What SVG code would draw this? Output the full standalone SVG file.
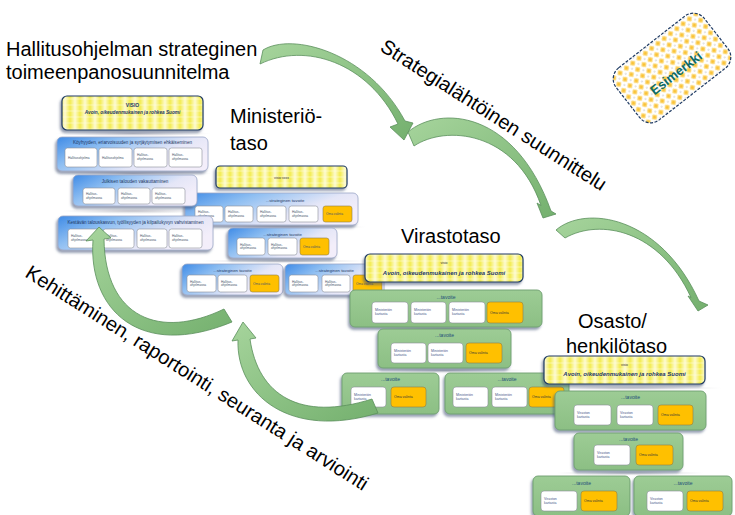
<svg xmlns="http://www.w3.org/2000/svg" width="735" height="515" viewBox="0 0 735 515">
<defs>
<style>
text{font-family:"Liberation Sans",Arial,sans-serif}
.big{font-size:20px;fill:#000}
.blue{fill:url(#bg);stroke:#9aa6c6;stroke-width:.8}
.green{fill:url(#gg);stroke:#6e9e70;stroke-width:.9}
.vis{fill:url(#vis);stroke:#1f3b64;stroke-width:1.2}
.wb{fill:#fff;stroke:#8a8f99;stroke-width:.6}
.ob{fill:#ffc000;stroke:#8f7d4a;stroke-width:.6}
.ht{font-size:4.6px;fill:#1f3864;text-anchor:middle}
.mt{font-size:4.3px;fill:#1f3864;text-anchor:middle}
.gt{font-size:5px;fill:#1f4e79;text-anchor:middle}
.lb{font-size:3.2px;fill:#44546a}
.gl{font-size:3.5px;fill:#4a5a8a}
.ol{font-size:3.5px;fill:#3a3a3a}
.arr{fill:url(#ag);stroke:#5a8f5c;stroke-width:.8}
.rf{fill:url(#rg)}
</style>
<filter id="sh" x="-10%" y="-20%" width="120%" height="150%"><feDropShadow dx="-1.5" dy="2.5" stdDeviation="1" flood-color="#3e4f72" flood-opacity="0.55"/></filter>
<linearGradient id="bg" x1="0" y1="0" x2="1" y2="0.5"><stop offset="0" stop-color="#3f8be6"/><stop offset=".35" stop-color="#8fbff2"/><stop offset=".75" stop-color="#e4e6f7"/><stop offset="1" stop-color="#f3eefa"/></linearGradient>
<linearGradient id="gg" x1="0" y1="0" x2="0" y2="1"><stop offset="0" stop-color="#9dcc95"/><stop offset="1" stop-color="#8cbf84"/></linearGradient>
<linearGradient id="ag" x1="0" y1="0" x2="1" y2="1"><stop offset="0" stop-color="#a6d49c"/><stop offset="1" stop-color="#74b06e"/></linearGradient>
<linearGradient id="vg" x1="0" y1="0" x2="1" y2="0"><stop offset="0" stop-color="#f3ec4e"/><stop offset=".5" stop-color="#fdfad0"/><stop offset="1" stop-color="#f3ec4e"/></linearGradient>
<pattern id="vis" width="10" height="6" patternUnits="userSpaceOnUse"><rect width="10" height="6" fill="url(#vg)"/><rect y="2.6" width="10" height="0.8" fill="#fffbe0" opacity=".7"/></pattern>
<radialGradient id="dg"><stop offset="0" stop-color="#f9b818"/><stop offset="1" stop-color="#fdebb0"/></radialGradient>
<pattern id="esp" width="8" height="8" patternUnits="userSpaceOnUse"><rect width="8" height="8" fill="#fff"/><polygon points="4,0.6 7.4,4 4,7.4 0.6,4" fill="url(#dg)"/><circle cx="0" cy="0" r=".5" fill="#777"/><circle cx="8" cy="8" r=".5" fill="#777"/><circle cx="8" cy="0" r=".5" fill="#777"/><circle cx="0" cy="8" r=".5" fill="#777"/></pattern>
<radialGradient id="rg"><stop offset="0" stop-color="#9a9aa6" stop-opacity=".6"/><stop offset="1" stop-color="#c0c0c8" stop-opacity="0"/></radialGradient>
</defs>
<rect width="735" height="515" fill="#fff"/>

<g id="labels">
<text class="big" x="6" y="56">Hallitusohjelman strateginen</text>
<text class="big" x="6" y="79">toimeenpanosuunnitelma</text>
<text class="big" x="230" y="123">Ministeriö-</text>
<text class="big" x="230" y="150">taso</text>
<text class="big" x="401" y="243">Virastotaso</text>
<text class="big" x="578" y="328">Osasto/</text>
<text class="big" x="566" y="353">henkilötaso</text>
<text class="big" transform="translate(379,50) rotate(32.5)">Strategialähtöinen suunnittelu</text>
<text class="big" transform="translate(24,276) rotate(32.4)">Kehittäminen, raportointi, seuranta ja arviointi</text>
</g>

<g id="esimerkki" transform="translate(672,68) rotate(-38)">
<rect x="-56" y="-33" width="112" height="66" rx="14" fill="url(#esp)" stroke="#1f3b64" stroke-width="1.2" stroke-dasharray="3 1.5"/>
<text x="0" y="11" text-anchor="middle" font-size="13" font-weight="bold" fill="#0e6b68">Esimerkki</text>
</g>

<g id="reflections">
<ellipse class="rf" cx="133" cy="133.5" rx="78" ry="3"/>
<ellipse class="rf" cx="133" cy="173.5" rx="80" ry="3"/>
<ellipse class="rf" cx="133" cy="211" rx="72" ry="3"/>
<ellipse class="rf" cx="284" cy="227" rx="85" ry="2"/>
<ellipse class="rf" cx="283" cy="261" rx="85" ry="2"/>
<ellipse class="rf" cx="446" cy="328.5" rx="95" ry="2"/>
<ellipse class="rf" cx="445" cy="370.5" rx="85" ry="2.5"/>
<ellipse class="rf" cx="630" cy="388" rx="95" ry="2"/>
<ellipse class="rf" cx="630" cy="473" rx="75" ry="2.5"/>
</g>

<g id="ministerio">
<g id="m-visio"><rect class="vis" x="216" y="166" width="131" height="22" rx="4" filter="url(#sh)"/><text x="281.5" y="178.5" font-size="3.5" fill="#333" text-anchor="middle">visio:xxxx</text></g>
<g id="m1">
<rect class="blue" x="185" y="193" width="173" height="32" rx="5" filter="url(#sh)"/>
<text class="mt" x="285" y="201.5">...strateginen tavoite</text>
<rect class="wb" x="195" y="206" width="28" height="16" rx="2.5"/><text class="lb" x="198" y="213"><tspan>Hallitus-</tspan><tspan x="198" dy="3.8">ohjelmassa</tspan></text>
<rect class="wb" x="225" y="206" width="28" height="16" rx="2.5"/><text class="lb" x="228" y="213"><tspan>Hallitus-</tspan><tspan x="228" dy="3.8">ohjelmassa</tspan></text>
<rect class="wb" x="257" y="206" width="29" height="16" rx="2.5"/><text class="lb" x="260" y="213"><tspan>Hallitus-</tspan><tspan x="260" dy="3.8">ohjelmassa</tspan></text>
<rect class="wb" x="289" y="206" width="29" height="16" rx="2.5"/><text class="lb" x="292" y="213"><tspan>Hallitus-</tspan><tspan x="292" dy="3.8">ohjelmassa</tspan></text>
<rect class="ob" x="323" y="206" width="29" height="16" rx="2.5"/><text class="lb" x="326" y="215">Oma valinta</text>
</g>
<g id="m2">
<rect class="blue" x="228" y="228" width="109" height="30" rx="5" filter="url(#sh)"/>
<text class="mt" x="282.5" y="235.5">...strateginen tavoite</text>
<rect class="wb" x="237" y="238" width="28" height="17" rx="2.5"/><text class="lb" x="240" y="245.5"><tspan>Hallitus-</tspan><tspan x="240" dy="3.8">ohjelmassa</tspan></text>
<rect class="wb" x="268" y="238" width="29" height="17" rx="2.5"/><text class="lb" x="271" y="245.5"><tspan>Hallitus-</tspan><tspan x="271" dy="3.8">ohjelmassa</tspan></text>
<rect class="ob" x="300" y="238" width="29" height="17" rx="2.5"/><text class="lb" x="303" y="247.5">Oma valinta</text>
</g>
<g id="m3">
<rect class="blue" x="182" y="264" width="101" height="31" rx="5" filter="url(#sh)"/>
<text class="mt" x="232.5" y="271.5">...strateginen tavoite</text>
<rect class="wb" x="187" y="275" width="29" height="17" rx="2.5"/><text class="lb" x="190" y="282.5"><tspan>Hallitus-</tspan><tspan x="190" dy="3.8">ohjelmassa</tspan></text>
<rect class="wb" x="218" y="275" width="29" height="17" rx="2.5"/><text class="lb" x="221" y="282.5"><tspan>Hallitus-</tspan><tspan x="221" dy="3.8">ohjelmassa</tspan></text>
<rect class="ob" x="250" y="275" width="29" height="17" rx="2.5"/><text class="lb" x="253" y="284.5">Oma valinta</text>
</g>
<g id="m4">
<rect class="blue" x="285" y="264" width="99" height="31" rx="5" filter="url(#sh)"/>
<text class="mt" x="334.5" y="271.5">...strateginen tavoite</text>
<rect class="wb" x="289" y="275" width="29" height="17" rx="2.5"/><text class="lb" x="292" y="282.5"><tspan>Hallitus-</tspan><tspan x="292" dy="3.8">ohjelmassa</tspan></text>
<rect class="wb" x="322" y="275" width="28" height="17" rx="2.5"/><text class="lb" x="325" y="282.5"><tspan>Hallitus-</tspan><tspan x="325" dy="3.8">ohjelmassa</tspan></text>
<rect class="ob" x="353" y="275" width="29" height="17" rx="2.5"/><text class="lb" x="356" y="284.5">Oma valinta</text>
</g>
</g>

<g id="hallitus">
<g id="h-visio"><rect class="vis" x="62" y="96" width="141" height="34" rx="5" filter="url(#sh)"/>
<text x="132.5" y="106.5" font-size="5" font-weight="bold" fill="#1f3864" text-anchor="middle">VISIO</text>
<text x="132.5" y="114" font-size="4.7" font-weight="bold" font-style="italic" fill="#1f3864" text-anchor="middle">Avoin, oikeudenmukainen ja rohkea Suomi</text></g>
<g id="h1">
<rect class="blue" x="57" y="137" width="151" height="34" rx="5" filter="url(#sh)"/>
<text class="ht" x="132.5" y="144">Köyhyyden, eriarvoisuuden ja syrjäytymisen ehkäiseminen</text>
<rect class="wb" x="65" y="148" width="32" height="19" rx="2.5"/><text class="lb" x="68" y="158.5">Hallitusohjelma</text>
<rect class="wb" x="99" y="148" width="33" height="19" rx="2.5"/><text class="lb" x="102" y="158.5">Hallitusohjelma</text>
<rect class="wb" x="134" y="148" width="33" height="19" rx="2.5"/><text class="lb" x="137" y="156"><tspan>Hallitus-</tspan><tspan x="137" dy="3.8">ohjelmassa</tspan></text>
<rect class="wb" x="169" y="148" width="33" height="19" rx="2.5"/><text class="lb" x="172" y="156"><tspan>Hallitus-</tspan><tspan x="172" dy="3.8">ohjelmassa</tspan></text>
</g>
<g id="h2">
<rect class="blue" x="73" y="175" width="124" height="31" rx="5" filter="url(#sh)"/>
<text class="ht" x="135" y="183">Julkisen talouden vakauttaminen</text>
<rect class="wb" x="83" y="188" width="32" height="16" rx="2.5"/><text class="lb" x="86" y="195"><tspan>Hallitus-</tspan><tspan x="86" dy="3.8">ohjelmassa</tspan></text>
<rect class="wb" x="118" y="188" width="32" height="16" rx="2.5"/><text class="lb" x="121" y="195"><tspan>Hallitus-</tspan><tspan x="121" dy="3.8">ohjelmassa</tspan></text>
<rect class="wb" x="152" y="188" width="33" height="16" rx="2.5"/><text class="lb" x="155" y="195"><tspan>Hallitus-</tspan><tspan x="155" dy="3.8">ohjelmassa</tspan></text>
</g>
<g id="h3">
<rect class="blue" x="58" y="216" width="155" height="34" rx="5" filter="url(#sh)"/>
<text class="ht" x="135.5" y="223.5">Kestävän talouskasvun, työllisyyden ja kilpailukyvyn vahvistaminen</text>
<rect class="wb" x="68" y="229" width="33" height="19" rx="2.5"/><text class="lb" x="71" y="237"><tspan>Hallitus-</tspan><tspan x="71" dy="3.8">ohjelmassa</tspan></text>
<rect class="wb" x="103" y="229" width="31" height="19" rx="2.5"/><text class="lb" x="106" y="237"><tspan>Hallitus-</tspan><tspan x="106" dy="3.8">ohjelmassa</tspan></text>
<rect class="wb" x="137" y="229" width="30" height="19" rx="2.5"/><text class="lb" x="140" y="237"><tspan>Hallitus-</tspan><tspan x="140" dy="3.8">ohjelmassa</tspan></text>
<rect class="wb" x="169" y="229" width="33" height="19" rx="2.5"/><text class="lb" x="172" y="237"><tspan>Hallitus-</tspan><tspan x="172" dy="3.8">ohjelmassa</tspan></text>
</g>
</g>

<g id="virasto">
<g id="v-visio"><rect class="vis" x="365" y="254" width="158" height="28" rx="5" filter="url(#sh)"/>
<text x="444" y="264" font-size="3.5" fill="#333" text-anchor="middle">visio</text>
<text x="444" y="274.5" font-size="6" font-weight="bold" font-style="italic" fill="#1f3864" text-anchor="middle">Avoin, oikeudenmukainen ja rohkea Suomi</text></g>
<g id="v1">
<rect class="green" x="350" y="290" width="192" height="37" rx="5" filter="url(#sh)"/>
<text class="gt" x="446" y="298.5">...tavoite</text>
<rect class="wb" x="372" y="302" width="36" height="21" rx="3"/><text class="gl" x="375" y="311"><tspan>Ministeriön</tspan><tspan x="375" dy="4">kartasta</tspan></text>
<rect class="wb" x="411" y="302" width="35" height="21" rx="3"/><text class="gl" x="414" y="311"><tspan>Ministeriön</tspan><tspan x="414" dy="4">kartasta</tspan></text>
<rect class="wb" x="449" y="302" width="36" height="21" rx="3"/><text class="gl" x="452" y="311"><tspan>Ministeriön</tspan><tspan x="452" dy="4">kartasta</tspan></text>
<rect class="ob" x="487" y="302" width="36" height="21" rx="3"/><text class="ol" x="490" y="313.5">Oma valinta</text>
</g>
<g id="v2">
<rect class="green" x="378" y="329" width="133" height="39" rx="5" filter="url(#sh)"/>
<text class="gt" x="444.5" y="337">...tavoite</text>
<rect class="wb" x="391" y="343" width="35" height="20" rx="3"/><text class="gl" x="394" y="351.5"><tspan>Ministeriön</tspan><tspan x="394" dy="4">kartasta</tspan></text>
<rect class="wb" x="428" y="343" width="35" height="20" rx="3"/><text class="gl" x="431" y="351.5"><tspan>Ministeriön</tspan><tspan x="431" dy="4">kartasta</tspan></text>
<rect class="ob" x="466" y="343" width="36" height="20" rx="3"/><text class="ol" x="469" y="354">Oma valinta</text>
</g>
<g id="v3">
<rect class="green" x="342" y="373" width="97" height="41" rx="5" filter="url(#sh)"/>
<text class="gt" x="390.5" y="381">...tavoite</text>
<rect class="wb" x="351" y="387" width="35" height="20" rx="3"/><text class="gl" x="354" y="395.5"><tspan>Ministeriön</tspan><tspan x="354" dy="4">kartasta</tspan></text>
<rect class="ob" x="391" y="387" width="35" height="20" rx="3"/><text class="ol" x="394" y="398">Oma valinta</text>
</g>
<g id="v4">
<rect class="green" x="445" y="373" width="124" height="41" rx="5" filter="url(#sh)"/>
<text class="gt" x="507" y="381">...tavoite</text>
<rect class="wb" x="453" y="387" width="35" height="20" rx="3"/><text class="gl" x="456" y="395.5"><tspan>Ministeriön</tspan><tspan x="456" dy="4">kartasta</tspan></text>
<rect class="wb" x="492" y="387" width="35" height="20" rx="3"/><text class="gl" x="495" y="395.5"><tspan>Ministeriön</tspan><tspan x="495" dy="4">kartasta</tspan></text>
<rect class="ob" x="529" y="387" width="35" height="20" rx="3"/><text class="ol" x="532" y="398">Oma valinta</text>
</g>
</g>

<g id="osasto">
<g id="o-visio"><rect class="vis" x="544" y="356" width="161" height="28" rx="5" filter="url(#sh)"/>
<text x="624.5" y="366" font-size="3.5" fill="#333" text-anchor="middle">visio</text>
<text x="624.5" y="376" font-size="6" font-weight="bold" font-style="italic" fill="#1f3864" text-anchor="middle">Avoin, oikeudenmukainen ja rohkea Suomi</text></g>
<g id="o1">
<rect class="green" x="555" y="391" width="151" height="39" rx="5" filter="url(#sh)"/>
<text class="gt" x="630.5" y="399">...tavoite</text>
<rect class="wb" x="574" y="405" width="37" height="20" rx="3"/><text class="gl" x="577" y="413.5"><tspan>Viraston</tspan><tspan x="577" dy="4">kartasta</tspan></text>
<rect class="wb" x="617" y="405" width="36" height="20" rx="3"/><text class="gl" x="620" y="413.5"><tspan>Viraston</tspan><tspan x="620" dy="4">kartasta</tspan></text>
<rect class="ob" x="658" y="405" width="35" height="20" rx="3"/><text class="ol" x="661" y="416">Oma valinta</text>
</g>
<g id="o2">
<rect class="green" x="574" y="433" width="109" height="37" rx="5" filter="url(#sh)"/>
<text class="gt" x="628.5" y="440.5">...tavoite</text>
<rect class="wb" x="594" y="445" width="36" height="20" rx="3"/><text class="gl" x="597" y="453.5"><tspan>Viraston</tspan><tspan x="597" dy="4">kartasta</tspan></text>
<rect class="ob" x="636" y="445" width="37" height="20" rx="3"/><text class="ol" x="639" y="456">Oma valinta</text>
</g>
<g id="o3">
<rect class="green" x="533" y="476" width="97" height="40" rx="5" filter="url(#sh)"/>
<text class="gt" x="581.5" y="484.5">...tavoite</text>
<rect class="wb" x="541" y="491" width="36" height="20" rx="3"/><text class="gl" x="544" y="499.5"><tspan>Viraston</tspan><tspan x="544" dy="4">kartasta</tspan></text>
<rect class="ob" x="581" y="491" width="36" height="20" rx="3"/><text class="ol" x="584" y="502">Oma valinta</text>
</g>
<g id="o4">
<rect class="green" x="634" y="476" width="98" height="40" rx="5" filter="url(#sh)"/>
<text class="gt" x="683" y="484.5">...tavoite</text>
<rect class="wb" x="647" y="491" width="36" height="20" rx="3"/><text class="gl" x="650" y="499.5"><tspan>Viraston</tspan><tspan x="650" dy="4">kartasta</tspan></text>
<rect class="ob" x="687" y="491" width="36" height="20" rx="3"/><text class="ol" x="690" y="502">Oma valinta</text>
</g>
</g>

<g id="connectors">
<path class="arr" d="M263,50 C292,32 368,52 405,121 L413,123 L404,140 L390,127 L398,124 C368,62 305,42 260,64 Z"/>
<path class="arr" d="M408,132 C440,105 515,110 551,211 L556,214 L543,218 L537,203 L541,205.5 C515,130 445,125 414,146 Z"/>
<path class="arr" d="M556,230 C585,205 660,215 699,301 L708,305 L698,311 L688,296 L691,297.5 C660,230 600,218 565,238 Z"/>
<path class="arr" d="M104,239 L111,238 L99,227 L86,241 L93,240 C88,310 140,360 232,322 L224,309 C160,340 105,318 104,239 Z"/>
<path class="arr" d="M250,339 L256,338 L243,322 L232,341 L238,340 C236,395 290,440 378,413 L372,399 C300,422 258,395 250,339 Z"/>
</g>
</svg>
